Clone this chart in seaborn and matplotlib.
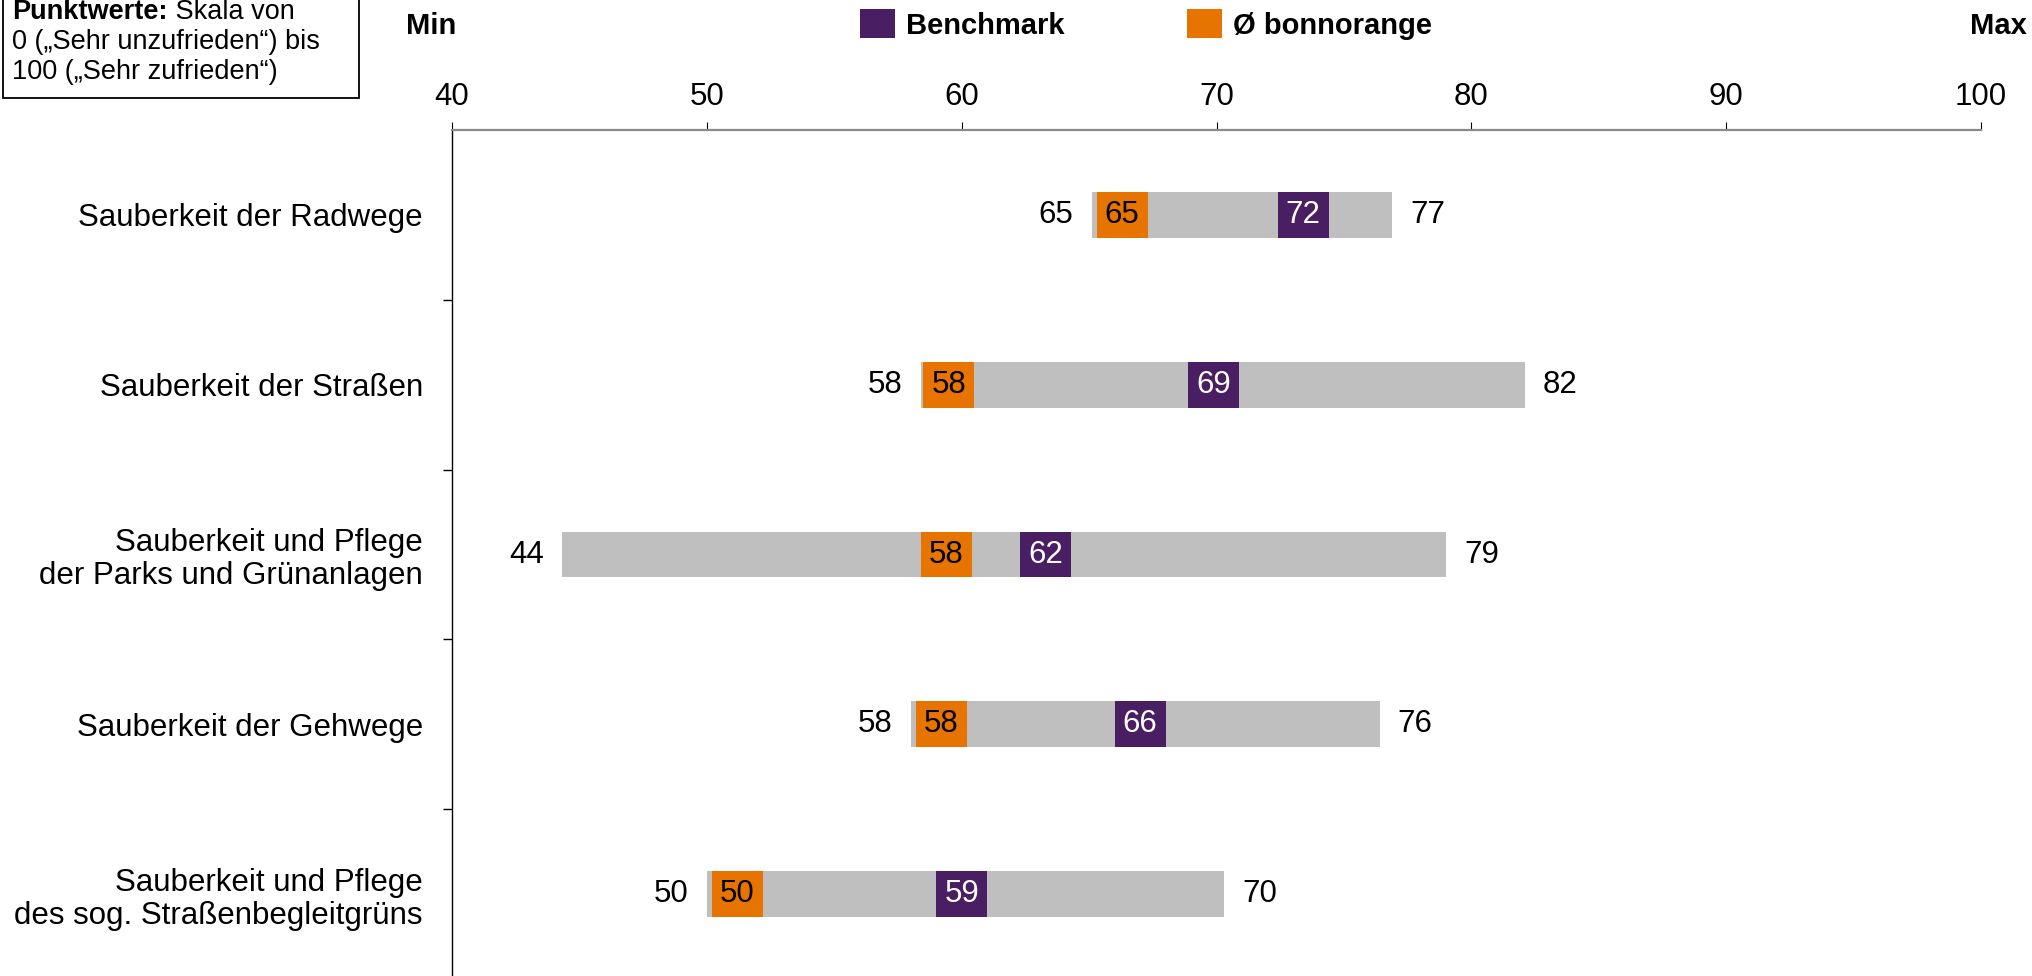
import numpy as np
import pandas as pd
import matplotlib
matplotlib.use("Agg")
import matplotlib.pyplot as plt
from matplotlib.patches import Rectangle
import seaborn as sns

# --- data -------------------------------------------------------------------
categories = [
    "Sauberkeit der Radwege",
    "Sauberkeit der Straßen",
    "Sauberkeit und Pflege\nder Parks und Grünanlagen",
    "Sauberkeit der Gehwege",
    "Sauberkeit und Pflege\ndes sog. Straßenbegleitgrüns",
]
min_values = [65.1, 58.4, 44.3, 58.0, 50.0]
max_values = [76.9, 82.1, 79.0, 76.4, 70.3]
avg_values = [65.3, 58.5, 58.4, 58.2, 50.2]          # Ø bonnorange
benchmark_values = [72.4, 68.9, 62.3, 66.0, 59.0]
x_ticks = [40, 50, 60, 70, 80, 90, 100]

# --- styling ----------------------------------------------------------------
W, H = 2032, 976
GRAY = "#BFBFBF"
PURPLE = "#4A1E63"
ORANGE = "#E87400"
MARKER_SPAN = 2.0       # width of the value boxes in scale units
BAR_WIDTH = 0.27

sns.set_theme(style="white")
plt.rcParams["font.family"] = ["Liberation Sans", "DejaVu Sans"]
plt.rcParams["text.color"] = "black"
plt.rcParams["axes.labelcolor"] = "black"
plt.rcParams["xtick.color"] = "black"
plt.rcParams["ytick.color"] = "black"
FS = 22.5


def fx(px):
    return px / W


def fy(py):
    return 1 - py / H


fig = plt.figure(figsize=(W / 100, H / 100), dpi=100)
ax_top, ax_bottom = 130, 979
ax = fig.add_axes([fx(452), fy(ax_bottom), (1981 - 452) / W, (ax_bottom - ax_top) / H])

df = pd.DataFrame({
    "kategorie": categories,
    "min": min_values,
    "max": max_values,
    "avg": avg_values,
    "benchmark": benchmark_values,
})
df["spanne"] = df["max"] - df["min"]
df["box"] = MARKER_SPAN

# grey range bars from min to max
sns.barplot(data=df, x="spanne", y="kategorie", orient="h", left=df["min"],
            color=GRAY, saturation=1, width=BAR_WIDTH, errorbar=None,
            linewidth=0, ax=ax)
# average boxes
sns.barplot(data=df, x="box", y="kategorie", orient="h", left=df["avg"],
            color=ORANGE, saturation=1, width=BAR_WIDTH, errorbar=None,
            linewidth=0, ax=ax)
# benchmark boxes
sns.barplot(data=df, x="box", y="kategorie", orient="h", left=df["benchmark"],
            color=PURPLE, saturation=1, width=BAR_WIDTH, errorbar=None,
            linewidth=0, ax=ax)

for i, row in df.iterrows():
    ax.text(row["avg"] + MARKER_SPAN / 2, i, f"{row['avg']:.0f}", ha="center",
            va="center", fontsize=FS, color="black")
    ax.text(row["benchmark"] + MARKER_SPAN / 2, i, f"{row['benchmark']:.0f}",
            ha="center", va="center", fontsize=FS, color="white")
    ax.annotate(f"{row['min']:.0f}", xy=(row["min"], i), xytext=(-13, 0),
                textcoords="offset points", ha="right", va="center",
                fontsize=FS, color="black")
    ax.annotate(f"{row['max']:.0f}", xy=(row["max"], i), xytext=(13, 0),
                textcoords="offset points", ha="left", va="center",
                fontsize=FS, color="black")

# --- axes -------------------------------------------------------------------
ax.set_xlim(x_ticks[0], x_ticks[-1])
ax.set_ylim(len(categories) - 0.5, -0.5)
ax.set_xlabel("")
ax.set_ylabel("")
ax.xaxis.tick_top()
ax.set_xticks(x_ticks)
ax.set_xticklabels([str(t) for t in x_ticks], fontsize=FS, color="black")
ax.tick_params(axis="x", which="major", top=True, bottom=False, direction="out",
               length=6, width=0.8, color="black", pad=7)
ax.set_yticks(range(len(categories)))
ax.set_yticklabels(categories, fontsize=FS, linespacing=1.15, color="black")
ax.set_yticks(np.arange(0.5, len(categories) - 0.5, 1.0), minor=True)
ax.tick_params(axis="y", which="major", left=False, length=0, pad=21)
ax.tick_params(axis="y", which="minor", left=True, direction="out",
               length=6.5, width=1.0, color="black")
for lab in ax.get_yticklabels():
    lab.set_horizontalalignment("right")
    lab.set_multialignment("right")

for side in ("right", "bottom"):
    ax.spines[side].set_visible(False)
ax.spines["top"].set_color("#8A8A8A")
ax.spines["top"].set_linewidth(1.6)
ax.spines["left"].set_color("black")
ax.spines["left"].set_linewidth(1.0)
ax.grid(False)

# --- header: Min / legend / Max ------------------------------------------------
fig.text(fx(431), fy(26), "Min", ha="center", va="center", fontsize=21,
         fontweight="bold", color="black")
fig.text(fx(2027), fy(26), "Max", ha="right", va="center", fontsize=21,
         fontweight="bold", color="black")

legend_items = [("Benchmark", PURPLE, 860), ("Ø bonnorange", ORANGE, 1187)]
for label, col, x0 in legend_items:
    fig.add_artist(Rectangle((fx(x0), fy(38)), 35 / W, 29 / H,
                             transform=fig.transFigure, facecolor=col,
                             edgecolor="none"))
    fig.text(fx(x0 + 46), fy(26), label, ha="left", va="center", fontsize=21,
             fontweight="bold", color="black")

# --- scale note box ------------------------------------------------------------
fig.add_artist(Rectangle((fx(3), fy(98)), 356 / W, 100 / H,
                         transform=fig.transFigure, facecolor="white",
                         edgecolor="black", linewidth=1.3))
FS_NOTE = 19.5
t1 = fig.text(fx(12), fy(19), "Punktwerte:", ha="left", va="baseline",
              fontsize=FS_NOTE, fontweight="bold", color="black")
fig.canvas.draw()
bb = t1.get_window_extent()
fig.text(bb.x1 / W, fy(19), " Skala von", ha="left", va="baseline",
         fontsize=FS_NOTE, color="black")
fig.text(fx(12), fy(49), "0 („Sehr unzufrieden“) bis", ha="left",
         va="baseline", fontsize=FS_NOTE, color="black")
fig.text(fx(12), fy(79), "100 („Sehr zufrieden“)", ha="left",
         va="baseline", fontsize=FS_NOTE, color="black")

fig.savefig("out.png", dpi=100)
